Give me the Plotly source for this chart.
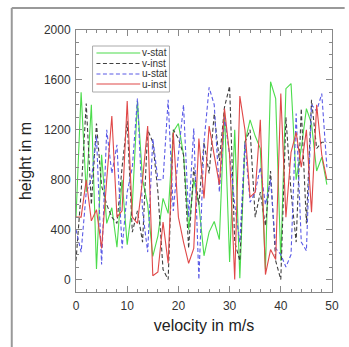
import plotly.graph_objects as go

x_vals = list(range(50))

v_stat = [500, 1500, 700, 1400, 85, 1000, 450, 575, 260, 800,
          280, 600, 1430, 800, 600, 185, 350, 650, 530, 1185,
          1250, 1000, 400, 800, 600, 190, 380, 465, 320, 1350,
          140, 1200, 10, 1100, 1280, 1150, 1050, 80, 1585, 1450,
          150, 1530, 1570, 800, 1050, 1370, 1250, 870, 980, 760]

v_inst = [150, 700, 1410, 600, 1250, 750, 600, 500, 450, 900,
          1270, 380, 550, 300, 1200, 1100, 700, 80, 0, 1200,
          1130, 1000, 250, 900, 600, 1100, 850, 1330, 950, 1380,
          1550, 300, 150, 1100, 1200, 500, 700, 430, 870, 150,
          0, 1300, 700, 300, 1370, 450, 1440, 1050, 1100, 1100]

u_stat = [400, 220, 700, 800, 1150, 120, 1200, 850, 1080, 250,
          700, 900, 1450, 550, 220, 1130, 800, 800, 1440, 550,
          1000, 1400, 500, 1210, 0, 1100, 1540, 1400, 700, 1300,
          1000, 600, 300, 1100, 620, 700, 900, 600, 800, 250,
          200, 100, 200, 1330, 300, 230, 1400, 1350, 1490, 900]

u_inst = [500, 500, 800, 470, 560, 250, 800, 1310, 500, 550,
          1430, 500, 450, 800, 1230, 30, 60, 460, 130, 1180,
          500, 300, 130, 250, 1130, 650, 1230, 1000, 760, 1370,
          1000, 0, 1470, 1200, 660, 700, 1280, 40, 240, 160,
          1490, 500, 1020, 1180, 900, 1200, 540, 1400, 1000, 800]

DASH = "4px,2.5px"
series = [
    ("v-stat", v_stat, "#4cdc4c", "solid"),
    ("v-inst", v_inst, "#404040", DASH),
    ("u-stat", u_stat, "#5a5ae6", DASH),
    ("u-inst", u_inst, "#e04848", "solid"),
]

x_ticks = [0, 10, 20, 30, 40, 50]
y_ticks = [0, 400, 800, 1200, 1600, 2000]

FONT = "Liberation Sans, Arial"

# plot area in pixels (for the hand-built legend and outer frame)
L, T, W, H = 76, 30, 263, 262
def px(xp):
    return (xp - L) / W
def py(yp):
    return (T + H - yp) / H

fig = go.Figure()
for name, vals, color, dash in series:
    fig.add_trace(go.Scatter(x=x_vals, y=vals, mode="lines", name=name, showlegend=False,
                             line=dict(color=color, width=1.1, dash=dash)))

axis_common = dict(
    showgrid=False, zeroline=False, showline=True, linecolor="#888888",
    linewidth=1, mirror="allticks", ticks="inside", ticklen=6,
    tickcolor="#888888", tickfont=dict(family=FONT, size=12, color="#333333"),
)

fig.update_xaxes(range=[0, 50], tickvals=x_ticks, ticklabelstandoff=3,
                 minor=dict(ticks="inside", ticklen=3, dtick=2, tickcolor="#888888"),
                 title=dict(text="velocity in m/s", font=dict(family=FONT, size=16, color="#222222"), standoff=7),
                 **axis_common)
fig.update_yaxes(range=[-100, 2000], tickvals=y_ticks, ticklabelstandoff=2,
                 minor=dict(ticks="inside", ticklen=3, dtick=100, tickcolor="#888888"),
                 title=dict(text="height in m", font=dict(family=FONT, size=16, color="#222222"), standoff=8),
                 **axis_common)

shapes = [
    dict(type="line", xref="paper", yref="paper",
         x0=px(10), x1=px(352), y0=py(8), y1=py(8),
         line=dict(color="#999999", width=2)),
    dict(type="line", xref="paper", yref="paper",
         x0=px(10), x1=px(10), y0=py(8), y1=py(350),
         line=dict(color="#999999", width=2)),
    dict(type="rect", xref="paper", yref="paper",
         x0=px(93), x1=px(172), y0=py(92), y1=py(46),
         line=dict(color="#aaaaaa", width=1), fillcolor="white", layer="above"),
]
annotations = []
row_y = [53, 63.5, 74, 84]
for (name, vals, color, dash), ry in zip(series, row_y):
    shapes.append(dict(type="line", xref="paper", yref="paper",
                       x0=px(97), x1=px(142), y0=py(ry), y1=py(ry),
                       line=dict(color=color, width=1.1, dash=dash), layer="above"))
    annotations.append(dict(x=px(142), y=py(ry), xref="paper", yref="paper",
                            text=name, showarrow=False, xanchor="left", yanchor="middle",
                            font=dict(family=FONT, size=10, color="#333333")))

fig.update_layout(
    width=349, height=347,
    margin=dict(l=L, r=349 - L - W, t=T, b=347 - T - H),
    paper_bgcolor="white", plot_bgcolor="white",
    showlegend=False,
    shapes=shapes,
    annotations=annotations,
)

fig.write_html("out.html")
